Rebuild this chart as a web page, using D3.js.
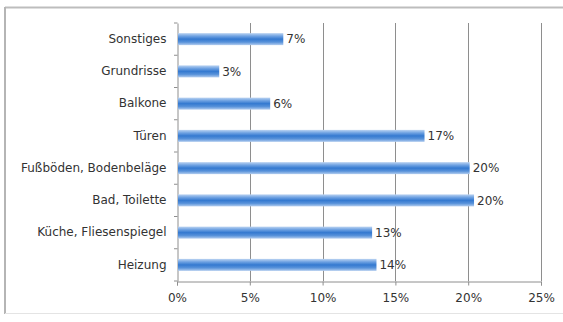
<!DOCTYPE html>
<html>
<head>
<meta charset="utf-8">
<script src="https://cdn.jsdelivr.net/npm/d3@7"></script>
<style>
  html, body { margin: 0; padding: 0; background: #fff; }
  svg { display: block; }
  svg text { font-family: "DejaVu Sans", "Open Sans", sans-serif; }
</style>
</head>
<body>
<svg id="chart" width="563" height="322"></svg>
<script>
// Categories, top to bottom
const categories = [
  "Sonstiges",
  "Grundrisse",
  "Balkone",
  "Türen",
  "Fußböden, Bodenbeläge",
  "Bad, Toilette",
  "Küche, Fliesenspiegel",
  "Heizung"
];
// Share of mentions (fraction)
const shares = [0.073, 0.029, 0.064, 0.170, 0.201, 0.204, 0.134, 0.137];
// Axis ticks
const xTicks = [0, 0.05, 0.10, 0.15, 0.20, 0.25];

const svg = d3.select("#chart");
const W = 563, H = 322;
const plot = { left: 177, right: 541, top: 23, bottom: 281 };
const FONT = "DejaVu Sans, Open Sans, sans-serif";

// Outer frame
svg.append("line").attr("x1", 5).attr("x2", W).attr("y1", 7.5).attr("y2", 7.5)
  .attr("stroke", "#bdbdbd").attr("stroke-width", 2);
svg.append("line").attr("x1", 5).attr("x2", 5).attr("y1", 7).attr("y2", 314)
  .attr("stroke", "#b5b5b5").attr("stroke-width", 2);
svg.append("line").attr("x1", 5).attr("x2", W).attr("y1", 313.5).attr("y2", 313.5)
  .attr("stroke", "#e4e4e4").attr("stroke-width", 1);

const x = d3.scaleLinear().domain([0, 0.25]).range([plot.left, plot.right]);
const y = d3.scaleBand().domain(categories).range([plot.top, plot.bottom]);

// Bar gradient (glossy cylinder look)
const defs = svg.append("defs");
const grad = defs.append("linearGradient").attr("id", "barGrad")
  .attr("x1", 0).attr("y1", 0).attr("x2", 0).attr("y2", 1);
[["0%", "#bcd4f2"], ["25%", "#6fa2e2"], ["50%", "#3479d0"], ["75%", "#5892da"], ["100%", "#b3cdef"]]
  .forEach(([o, c]) => grad.append("stop").attr("offset", o).attr("stop-color", c));

// Vertical gridlines
svg.append("g").selectAll("line").data(xTicks.slice(1)).join("line")
  .attr("x1", d => Math.round(x(d)) + 0.5).attr("x2", d => Math.round(x(d)) + 0.5)
  .attr("y1", plot.top).attr("y2", plot.bottom)
  .attr("stroke", "#8e8e8e").attr("stroke-width", 1);

// X axis
const xAxis = svg.append("g").attr("transform", `translate(0,${plot.bottom + 0.5})`)
  .call(d3.axisBottom(x).tickValues(xTicks).tickFormat(d3.format(".0%")).tickSize(4).tickPadding(8))
  .attr("font-family", FONT);
xAxis.select(".domain").attr("stroke", "#8e8e8e");
xAxis.selectAll(".tick line").attr("stroke", "#8e8e8e");
xAxis.selectAll("text").attr("fill", "#333").attr("font-size", 12);

// Y axis
const yAxis = svg.append("g").attr("transform", `translate(${plot.left + 0.5},0)`)
  .call(d3.axisLeft(y).tickSize(0).tickPadding(11))
  .attr("font-family", FONT);
yAxis.select(".domain").attr("stroke", "#8e8e8e");
yAxis.selectAll("text").attr("fill", "#333").attr("font-size", 12);
// Separator ticks between categories
svg.append("g").selectAll("line").data(d3.range(categories.length + 1)).join("line")
  .attr("x1", plot.left - 3).attr("x2", plot.left + 0.5)
  .attr("y1", i => plot.top + i * y.step()).attr("y2", i => plot.top + i * y.step())
  .attr("stroke", "#8e8e8e");

// Bars
const barH = 12;
svg.append("g").selectAll("rect").data(categories).join("rect")
  .attr("x", plot.left + 1)
  .attr("y", d => y(d) + y.bandwidth() / 2 - barH / 2)
  .attr("width", (d, i) => x(shares[i]) - plot.left - 1)
  .attr("height", barH)
  .attr("fill", "url(#barGrad)");

// Value labels
svg.append("g").selectAll("text").data(categories).join("text")
  .attr("x", (d, i) => x(shares[i]) + 3)
  .attr("y", d => y(d) + y.bandwidth() / 2)
  .attr("dy", "0.35em")
  .attr("fill", "#333").attr("font-size", 12)
  .text((d, i) => d3.format(".0%")(shares[i]));
</script>
</body>
</html>
